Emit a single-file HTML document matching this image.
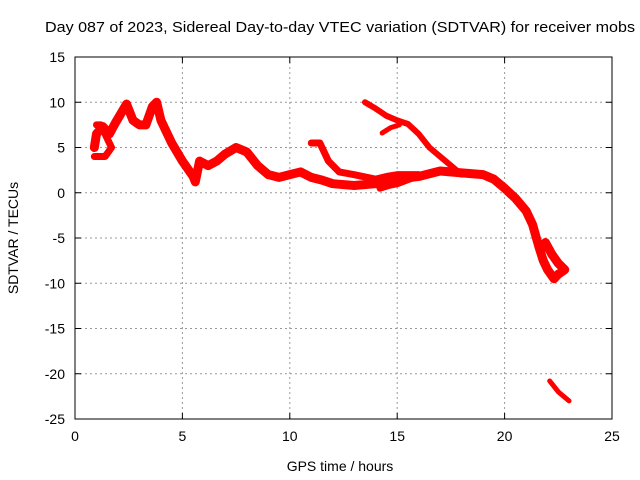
<!DOCTYPE html>
<html><head><meta charset="utf-8"><style>
body{margin:0;background:#fff}
svg{display:block;font-family:"Liberation Sans",sans-serif}
</style></head><body>
<svg id="c" width="640" height="480">
<text x="45" y="32" font-size="15" textLength="590" lengthAdjust="spacingAndGlyphs">Day 087 of 2023, Sidereal Day-to-day VTEC variation (SDTVAR) for receiver mobs</text>
<text x="340" y="471" font-size="14" text-anchor="middle">GPS time / hours</text>
<text x="18" y="238" font-size="14" text-anchor="middle" transform="rotate(-90 18 238)">SDTVAR / TECUs</text>
<g id="grid"></g><g id="marks"></g>
<rect x="75" y="57" width="537" height="362" fill="none" stroke="#000"/>
</svg>
<script>
const xTicks=[0,5,10,15,20,25];
const yTicks=[15,10,5,0,-5,-10,-15,-20,-25];
const mainX=[0.9,1.0,1.3,1.6,1.9,2.2,2.4,2.7,3.0,3.3,3.6,3.8,4.0,4.5,5.0,5.5,5.6,5.8,6.2,6.6,7.0,7.5,8.0,8.5,9.0,9.5,10,10.5,11,11.5,12,13,14,15,16,17,18,19,19.5,20,20.5,21,21.3,21.6,21.8,22.0,22.3,22.5,22.8,22.5,22.2,21.9];
const mainY=[5,6.5,7.3,6.5,7.8,9,9.8,8,7.5,7.5,9.5,10,8,5.5,3.5,1.8,1.2,3.5,3,3.5,4.3,5,4.5,3,2,1.7,2,2.3,1.7,1.4,1,0.8,1,1.5,1.8,2.4,2.2,2,1.5,0.5,-0.6,-2,-3.5,-6,-7.5,-8.5,-9.5,-9,-8.5,-7.8,-6.8,-5.5];
const loopX=[0.9,1.4,1.7,1.5,1.2,1.0];
const loopY=[4,4,5,6,7.5,7.5];
const branchX=[11.0,11.4,11.8,12.3,13,14,14.5,15,16];
const branchY=[5.5,5.5,3.5,2.3,2,1.5,1.8,2,2];
const upperX=[13.5,14.0,14.5,15,15.5,16,16.5,17,17.5,18];
const upperY=[10,9.3,8.5,8,7.6,6.5,5,4,3,2];
const spurX=[14.3,14.7,15.1];
const spurY=[6.6,7.2,7.5];
const lowX=[14.2,14.6,15,16];
const lowY=[0.5,0.8,1,1.9];
const tailX=[22.1,22.5,23];
const tailY=[-20.8,-22,-23];
const L=75,R=612,T=57,B=419,X0=0,X1=25,Y0=-25,Y1=15;
const sx=v=>L+(v-X0)/(X1-X0)*(R-L), sy=v=>B-(v-Y0)/(Y1-Y0)*(B-T);
const NS='http://www.w3.org/2000/svg';
const g=document.getElementById('grid'),m=document.getElementById('marks');
function el(t,a,p){const e=document.createElementNS(NS,t);for(const k in a)e.setAttribute(k,a[k]);p.appendChild(e);return e;}
xTicks.forEach(v=>{const x=sx(v);
 if(v>X0&&v<X1){const l=el('line',{x1:x,x2:x,y1:T,y2:B,stroke:'#999','stroke-dasharray':'2,3'},g);
 
 }
 el('line',{x1:x,x2:x,y1:B,y2:B-6,stroke:'#000'},g);el('line',{x1:x,x2:x,y1:T,y2:T+6,stroke:'#000'},g);
 const t=el('text',{x:x,y:B+22,'font-size':14,'text-anchor':'middle'},g);t.textContent=v;
 
 });
yTicks.forEach(v=>{const y=sy(v);
 if(v>Y0&&v<Y1){const l=el('line',{x1:L,x2:R,y1:y,y2:y,stroke:'#999','stroke-dasharray':'2,3'},g);
 
 }
 el('line',{x1:L,x2:L+6,y1:y,y2:y,stroke:'#000'},g);el('line',{x1:R,x2:R-6,y1:y,y2:y,stroke:'#000'},g);
 const t=el('text',{x:L-10,y:y+5,'font-size':14,'text-anchor':'end'},g);t.textContent=v;
 
 });
function trace(xs,ys,name,w){const p=el('polyline',{points:xs.map((x,i)=>sx(x)+','+sy(ys[i])).join(' '),fill:'none',stroke:'#f00','stroke-width':w,'stroke-linejoin':'round','stroke-linecap':'round'},m);
 
 }
trace(mainX,mainY,'sdtvar-main-trace',9);
trace(loopX,loopY,'sdtvar-loop-trace',7);
trace(branchX,branchY,'sdtvar-branch-trace',7);
trace(upperX,upperY,'sdtvar-upper-trace',6);
trace(spurX,spurY,'sdtvar-spur-trace',5);
trace(lowX,lowY,'sdtvar-low-trace',7);
trace(tailX,tailY,'sdtvar-tail-trace',5);
</script>
</body></html>
